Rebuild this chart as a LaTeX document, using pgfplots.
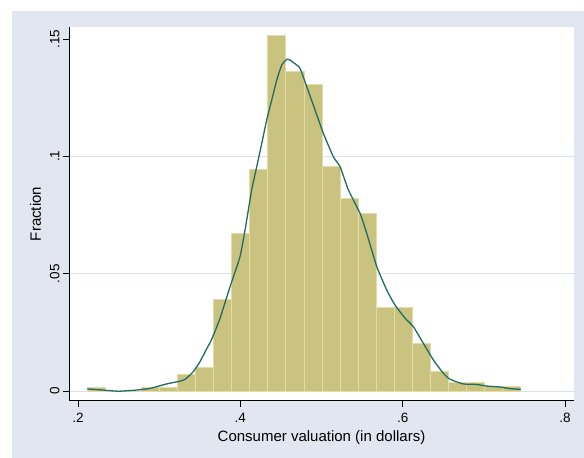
\documentclass[border=0pt]{standalone}
\usepackage{pgfplots}
\pgfplotsset{compat=1.18}
\usepackage{fontspec}
\setmainfont{Liberation Sans}
\definecolor{bgcol}{RGB}{225,230,240}
\definecolor{gridcol}{RGB}{218,224,240}
\definecolor{barfill}{RGB}{202,195,127}
\definecolor{barline}{RGB}{228,220,168}
\definecolor{curvecol}{RGB}{32,108,98}
\begin{document}
\begin{tikzpicture}[x=1pt,y=1pt]
\useasboundingbox (0,0) rectangle (584,458);
\fill[white] (0,0) rectangle (584,458);
\fill[bgcol] (12,0) rectangle (584,447);
\begin{axis}[
  at={(69pt,57pt)}, anchor=south west,
  scale only axis, width=505pt, height=374pt,
  xmin=0.18891, xmax=0.81109,
  ymin=-0.00426, ymax=0.1551,
  axis background/.style={fill=white},
  axis x line*=bottom, axis y line*=left,
  axis line style={black, line width=1pt, -},
  xtick={0.2,0.4,0.6,0.8}, xticklabels={.2,.4,.6,.8},
  ytick={0,0.05,0.1}, yticklabels={0,.05,.1},
  extra y ticks={0.15}, extra y tick labels={.15},
  extra y tick style={grid=none},
  ymajorgrids, grid style={gridcol, line width=1pt},
  tick align=outside, major tick length=6pt,
  tick style={black, line width=0.8pt},
  /pgf/number format/assume math mode=true,
  tick label style={font=\fontsize{13.5}{15}\selectfont},
  x tick label style={yshift=-3pt},
  y tick label style={rotate=90, anchor=south},
  label style={font=\fontsize{15}{17}\selectfont},
  xlabel={Consumer valuation (in dollars)},
  ylabel={Fraction},
  xlabel style={at={(rel axis cs:0.5,0)}, anchor=north, yshift=-26pt},
  ylabel style={yshift=-10pt},
  clip=false,
]
\addplot[ybar interval, fill=barfill, draw=barline, line width=1pt] coordinates {
(0.2115,0.0015) (0.23375,0) (0.256,0) (0.27825,0.0016) (0.3005,0.0016)
(0.32275,0.0069) (0.345,0.0100) (0.36725,0.0388) (0.3895,0.0671) (0.41175,0.0942)
(0.434,0.1513) (0.45625,0.1361) (0.4785,0.1308) (0.50075,0.0956) (0.523,0.0822)
(0.54525,0.0756) (0.5675,0.0354) (0.58975,0.0354) (0.612,0.0203) (0.63425,0.0084)
(0.6565,0.0037) (0.67875,0.0035) (0.701,0.0018) (0.72325,0.0018) (0.7455,0.0018)
};
\addplot[curvecol, line width=1.3pt, no marks, smooth, tension=0.3] coordinates {
(0.2115,0.0009) (0.231,0.0004) (0.2497,-0.0001) (0.272,0.0004) (0.2887,0.0011)
(0.309,0.0030) (0.3257,0.0042) (0.332,0.0050) (0.342,0.0082) (0.3503,0.0125)
(0.3586,0.0180) (0.3647,0.0220) (0.375,0.0310) (0.3873,0.0444) (0.3996,0.0572)
(0.4058,0.0686) (0.414,0.0857) (0.4202,0.0956) (0.4264,0.1055) (0.4325,0.1155)
(0.4387,0.1240) (0.4449,0.1325) (0.451,0.1389) (0.4572,0.1413) (0.4612,0.1410)
(0.4695,0.1389) (0.4736,0.1375) (0.4818,0.1297) (0.4921,0.1197) (0.5023,0.1098)
(0.5146,0.0998) (0.5229,0.0956) (0.5331,0.0857) (0.5475,0.0757) (0.5557,0.0672)
(0.5681,0.0530) (0.5804,0.0430) (0.5906,0.0366) (0.603,0.0310) (0.6132,0.0274)
(0.6255,0.0203) (0.6379,0.0132) (0.6502,0.0075) (0.6584,0.0050) (0.6748,0.0030)
(0.6913,0.0028) (0.7036,0.0021) (0.72,0.0017) (0.7323,0.0010) (0.7455,0.0007)
};
\end{axis}
\end{tikzpicture}
\end{document}
